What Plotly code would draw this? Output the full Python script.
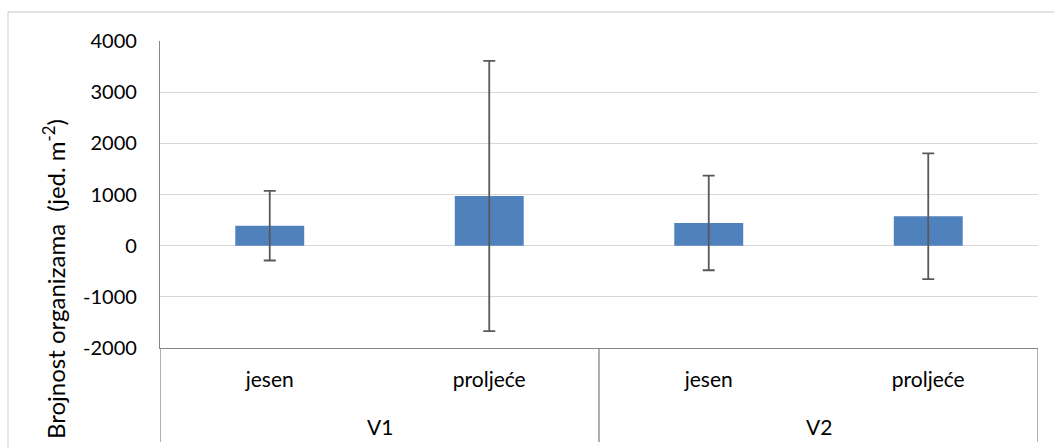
import plotly.graph_objects as go

groups = ["V1", "V1", "V2", "V2"]
seasons = ["jesen", "proljeće", "jesen", "proljeće"]
values = [390, 970, 445, 575]
errors = [680, 2640, 925, 1228]

y_ticks = [-2000, -1000, 0, 1000, 2000, 3000, 4000]
y_title = "Brojnost organizama  (jed. m<sup>-2</sup>)"

W, H = 1054, 448
ML, MR, MT, MB = 160, 16, 41, 100
FONT = "Lato"
AXIS_COLOR = "#868686"

pw = W - ML - MR
ph = H - MT - MB

xpos = list(range(len(values)))

fig = go.Figure()
fig.add_trace(go.Bar(
    x=xpos,
    y=values,
    width=0.314,
    marker=dict(color="#4F81BD", line=dict(width=0)),
    error_y=dict(type="data", array=errors, visible=True,
                 color="#595959", thickness=1.8, width=6),
    showlegend=False,
    hoverinfo="skip",
))

# group labels and dividers of the two-level category axis
unique_groups = list(dict.fromkeys(groups))
boundaries = [-0.5]
for g in unique_groups:
    idx = [i for i, gg in enumerate(groups) if gg == g]
    fig.add_annotation(x=sum(idx) / len(idx), xref="x",
                       y=(348 - 426.5) / ph, yref="paper",
                       text=g, showarrow=False, yanchor="middle",
                       font=dict(family=FONT, size=21, color="#000"))
    boundaries.append(max(idx) + 0.5)
for b in boundaries:
    fig.add_shape(type="line", xref="x", yref="paper",
                  x0=b, x1=b, y0=0, y1=(348 - 442) / ph,
                  line=dict(color=AXIS_COLOR, width=1.3))

# y axis title
fig.add_annotation(x=(54 - ML) / pw, xref="paper",
                   y=(348 - 279) / ph, yref="paper",
                   text=y_title, textangle=-90, showarrow=False,
                   xanchor="center", yanchor="middle",
                   font=dict(family=FONT, size=24, color="#000"))

# chart-area border
fig.add_shape(type="rect", xref="paper", yref="paper",
              x0=(8 - ML) / pw, x1=(W + 5 - ML) / pw,
              y0=(348 - H - 5) / ph, y1=1 + (MT - 12) / ph,
              line=dict(color="#d9d9d9", width=1.3), layer="below")

fig.update_layout(
    width=W, height=H,
    margin=dict(l=ML, r=MR, t=MT, b=MB),
    paper_bgcolor="white", plot_bgcolor="white",
    font=dict(family=FONT, size=20, color="#000000"),
    xaxis=dict(
        range=[-0.5, len(values) - 0.5],
        tickvals=xpos, ticktext=seasons,
        showline=True, linecolor=AXIS_COLOR, linewidth=1.3,
        ticks="", ticklabelstandoff=13,
        tickfont=dict(size=21),
        showgrid=False, zeroline=False,
    ),
    yaxis=dict(
        range=[-2000, 4000], tickvals=y_ticks,
        ticktext=[str(v) for v in y_ticks],
        showgrid=True, gridcolor="#d9d9d9", gridwidth=1.3,
        zeroline=False,
        showline=True, linecolor=AXIS_COLOR, linewidth=1.3,
        ticks="", ticklabelstandoff=18,
        tickfont=dict(size=20),
    ),
)

fig.write_html("out.html", config={"displayModeBar": False},
               post_script="document.body.style.margin='0';")
